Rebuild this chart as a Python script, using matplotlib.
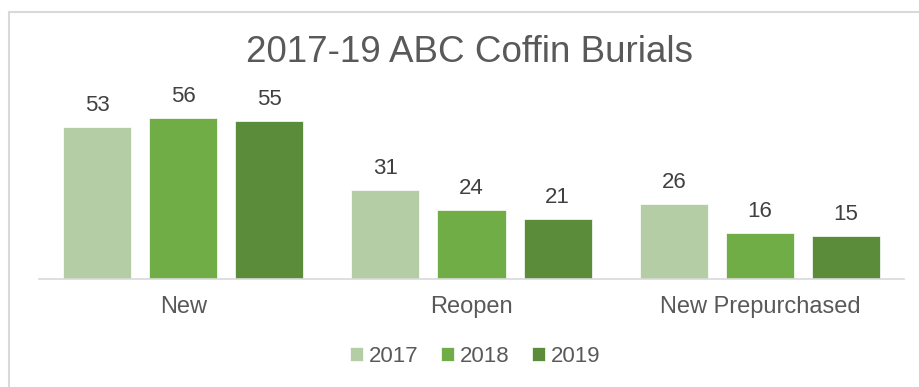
import matplotlib
matplotlib.use("Agg")
import matplotlib.pyplot as plt
import numpy as np
from matplotlib.patches import Rectangle

categories = ["New", "Reopen", "New Prepurchased"]
years = ["2017", "2018", "2019"]
v2017 = [53, 31, 26]
v2018 = [56, 24, 16]
v2019 = [55, 21, 15]
colors = ["#B4CDA5", "#70AD47", "#5A8C3A"]

plt.rcParams['font.family'] = ['Liberation Sans', 'DejaVu Sans']
txt = "#595959"

fig = plt.figure(figsize=(9.19, 3.87), dpi=100)
ax = fig.add_axes([39/919, 108/387, 865/919, 172/387])

x = np.arange(len(categories))
w = 68/288.3
step = 86/288.3
series = [v2017, v2018, v2019]
for i, (vals, c, yr) in enumerate(zip(series, colors, years)):
    bars = ax.bar(x + (i-1)*step, vals, width=w, color=c, label=yr,
                  edgecolor="#ffffff", linewidth=0.5)
    for b, v in zip(bars, vals):
        ax.annotate(str(v), (b.get_x() + b.get_width()/2, v),
                    xytext=(0, 8), textcoords="offset points",
                    ha="center", va="bottom", fontsize=16, color="#404040")

ax.set_xlim(-0.5, 2.5)
ax.set_ylim(0, 60)
ax.set_yticks([])
ax.set_xticks(x)
ax.set_xticklabels(categories, fontsize=17, color=txt)
ax.tick_params(axis='x', length=0, pad=12)
for s in ["top", "right", "left"]:
    ax.spines[s].set_visible(False)
ax.spines["bottom"].set_color("#D9D9D9")
ax.spines["bottom"].set_linewidth(1.2)

fig.text(470/919, 1 - 52/387, "2017-19 ABC Coffin Burials", ha="center",
         va="center", fontsize=26.5, color=txt)

leg = fig.legend(loc="center", bbox_to_anchor=(475/919, 1 - 356/387), ncol=3,
                 frameon=False, fontsize=16, handlelength=0.6, handleheight=0.6,
                 handletextpad=0.25, columnspacing=1.0)
for t in leg.get_texts():
    t.set_color(txt)

# chart frame
fig.add_artist(Rectangle((9/919, -0.1), 1.2, 1 - 12/387 + 0.1,
                         transform=fig.transFigure, fill=False,
                         edgecolor="#D9D9D9", linewidth=1.5))

fig.savefig("out.png", dpi=100)
